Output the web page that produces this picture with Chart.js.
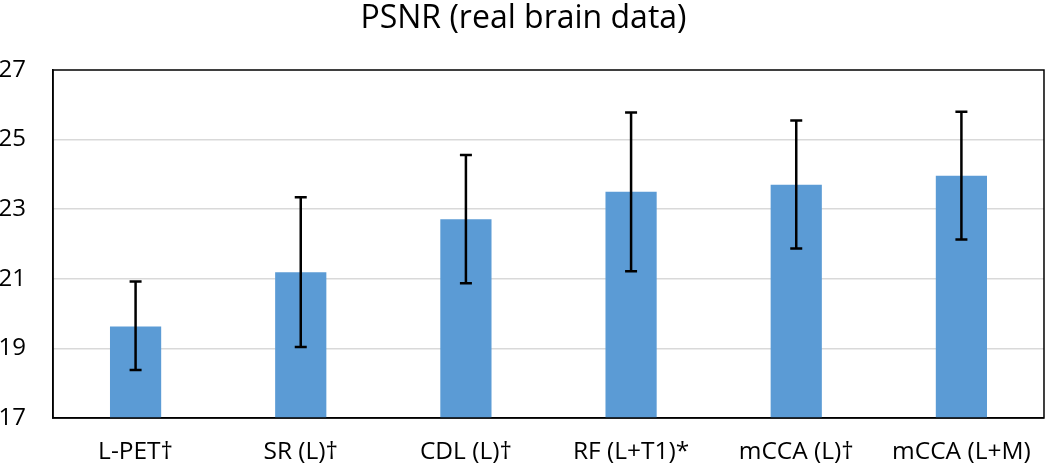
<!DOCTYPE html>
<html>
<head>
<meta charset="utf-8">
<script src="https://cdn.jsdelivr.net/npm/chart.js@4.4.1/dist/chart.umd.min.js"></script>
<style>
  html, body { margin: 0; padding: 0; background: #ffffff; }
  #wrap { width: 1050px; height: 469px; position: relative; }
</style>
</head>
<body>
<div id="wrap"><canvas id="c" width="1050" height="469"></canvas></div>
<script>
const categories = ['L-PET\u2020', 'SR (L)\u2020', 'CDL (L)\u2020', 'RF (L+T1)*', 'mCCA (L)\u2020', 'mCCA (L+M)'];
const psnrMean  = [19.63, 21.19, 22.71, 23.50, 23.70, 23.96];
const errUpper  = [20.92, 23.34, 24.56, 25.78, 25.55, 25.80];
const errLower  = [18.38, 19.04, 20.87, 21.22, 21.87, 22.13];
const yTicks    = [17, 19, 21, 23, 25, 27];

const FONT = "'Open Sans', 'Liberation Sans', sans-serif";

const errorBarPlugin = {
  id: 'errorBars',
  afterDatasetsDraw(chart) {
    const ctx = chart.ctx;
    const yScale = chart.scales.y;
    const meta = chart.getDatasetMeta(0);
    ctx.save();
    ctx.strokeStyle = '#000000';
    ctx.lineWidth = 2.5;
    meta.data.forEach((bar, i) => {
      const x = bar.x;
      const yTop = yScale.getPixelForValue(errUpper[i]);
      const yBot = yScale.getPixelForValue(errLower[i]);
      const cap = 6;
      ctx.beginPath();
      ctx.moveTo(x, yTop); ctx.lineTo(x, yBot);
      ctx.moveTo(x - cap, yTop); ctx.lineTo(x + cap, yTop);
      ctx.moveTo(x - cap, yBot); ctx.lineTo(x + cap, yBot);
      ctx.stroke();
    });
    ctx.restore();
  }
};

const frameBorderPlugin = {
  id: 'frameBorder',
  afterDraw(chart) {
    const a = chart.chartArea;
    const ctx = chart.ctx;
    ctx.save();
    ctx.strokeStyle = '#000000';
    ctx.lineWidth = 1.5;
    ctx.strokeRect(a.left, a.top, a.right - a.left, a.bottom - a.top);
    ctx.restore();
  }
};

new Chart(document.getElementById('c'), {
  type: 'bar',
  data: {
    labels: categories,
    datasets: [{
      data: psnrMean,
      backgroundColor: '#5B9BD5',
      borderWidth: 0,
      barPercentage: 0.31,
      categoryPercentage: 1.0
    }]
  },
  options: {
    responsive: false,
    animation: false,
    devicePixelRatio: 1,
    layout: { padding: { left: 0, right: 3, top: 0, bottom: 0 } },
    plugins: {
      legend: { display: false },
      tooltip: { enabled: false },
      title: {
        display: true,
        text: 'PSNR (real brain data)',
        color: '#000000',
        font: { family: FONT, size: 32, weight: 'normal' },
        padding: { top: 0, bottom: 31.6 }
      }
    },
    scales: {
      x: {
        grid: { display: false, drawTicks: false },
        border: { display: true, color: '#000000', width: 1.5 },
        ticks: {
          color: '#000000',
          font: { family: FONT, size: 24.5 },
          padding: 19,
          maxRotation: 0,
          autoSkip: false
        },
        afterFit(scale) { scale.height = 51; }
      },
      y: {
        min: 17,
        max: 27,
        afterBuildTicks(scale) { scale.ticks = yTicks.map(v => ({ value: v })); },
        grid: {
          color: (c) => (c.tick && (c.tick.value === 17 || c.tick.value === 27)) ? 'rgba(0,0,0,0)' : '#d9d9d9',
          lineWidth: 1.5,
          drawTicks: false
        },
        border: { display: true, color: '#000000', width: 1.5 },
        ticks: {
          color: '#000000',
          font: { family: FONT, size: 24 },
          padding: 27
        },
        afterFit(scale) { scale.width = 53; }
      }
    }
  },
  plugins: [errorBarPlugin, frameBorderPlugin]
});
</script>
</body>
</html>
